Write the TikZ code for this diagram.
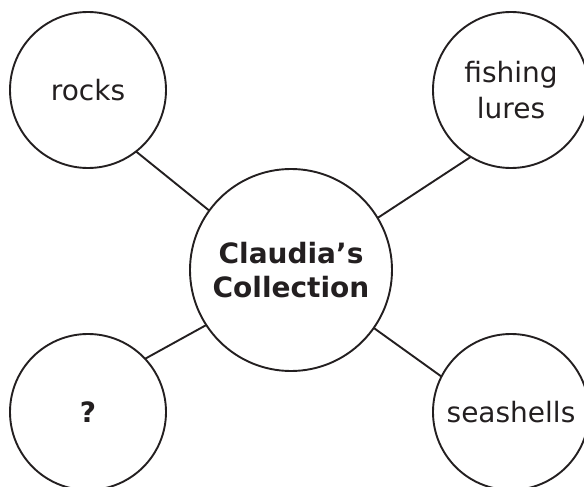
\documentclass[tikz,border=0pt]{standalone}
\usepackage{fontspec}
\setmainfont{DejaVu Sans}
\definecolor{ink}{HTML}{231F20}
\begin{document}
\begin{tikzpicture}[x=1pt,y=-1pt,
  bubble/.style={circle,draw=ink,line width=1.9pt,inner sep=0pt,outer sep=0pt,
    minimum size=156pt,text=ink,font=\fontsize{28}{36}\selectfont,align=center},
  hub/.style={bubble,minimum size=202pt,font=\fontsize{28}{34}\selectfont\bfseries},
  link/.style={draw=ink,line width=1.9pt}]
\useasboundingbox (0,0) rectangle (584,487);
\clip (0,0) rectangle (584,487);
\node[hub] (c) at (291,270) {Claudia’s\\Collection};
\node[bubble] (r) at (88,90) {rocks};
\node[bubble] (f) at (511,90) {fishing\\lures};
\node[bubble,font=\fontsize{28}{36}\selectfont\bfseries] (q) at (88,412) {?};
\node[bubble] (s) at (511,412) {seashells};
\draw[link] (c.144.6) -- (r.308.9);
\draw[link] (c.31.8) -- (f.239.3);
\draw[link] (c.213) -- (q.43);
\draw[link] (c.325.8) -- (s.153);
\end{tikzpicture}
\end{document}
